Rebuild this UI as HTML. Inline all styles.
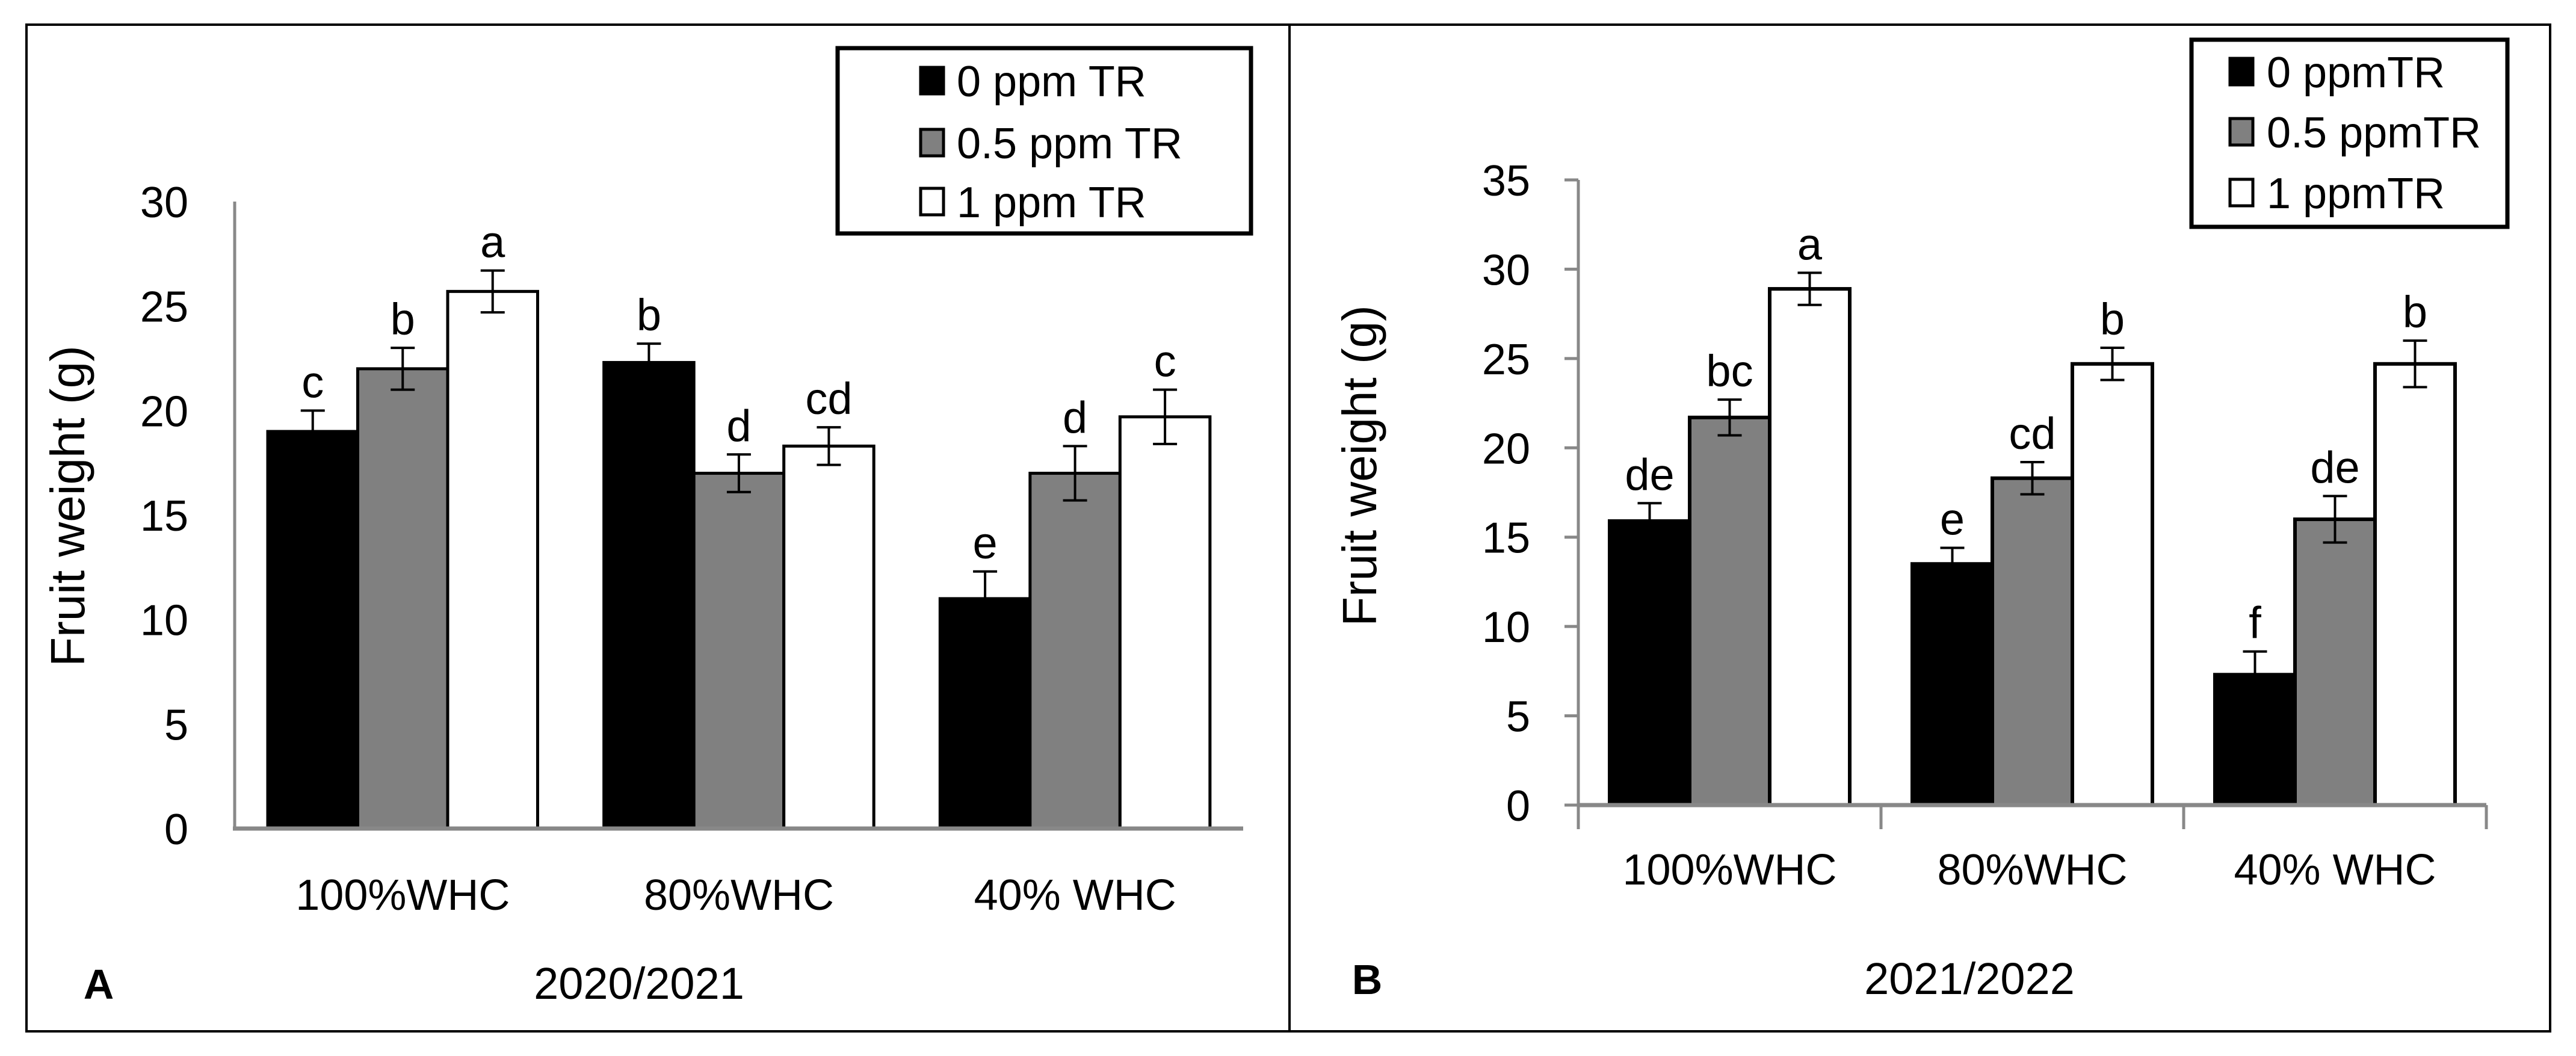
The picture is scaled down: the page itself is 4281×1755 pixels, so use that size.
<!DOCTYPE html>
<html><head><meta charset="utf-8"><style>
html,body{margin:0;padding:0;background:#fff}
svg{display:block}
text{font-family:"Liberation Sans",sans-serif;fill:#000}
</style></head><body>
<svg id="fig" width="4281" height="1755" viewBox="0 0 4281 1755" xmlns="http://www.w3.org/2000/svg">
<rect x="44" y="41" width="4194" height="1673" fill="none" stroke="#000" stroke-width="4"/>
<line x1="2143" y1="41" x2="2143" y2="1714" stroke="#000" stroke-width="4"/>
<g id="gA"></g>
<g id="gB"></g>
</svg>
<script>
const categories = ["100%WHC","80%WHC","40% WHC"];
const seriesNamesA = ["0 ppm TR","0.5 ppm TR","1 ppm TR"];
const seriesNamesB = ["0 ppmTR","0.5 ppmTR","1 ppmTR"];
const a0 = [19, 22.3, 11];
const a05 = [22, 17, 17];
const a1 = [25.7, 18.3, 19.7];
const aErr0 = [1.0, 0.9, 1.3];
const aErr05 = [1.0, 0.9, 1.3];
const aErr1 = [1.0, 0.9, 1.3];
const aLetters0 = ["c","b","e"];
const aLetters05 = ["b","d","d"];
const aLetters1 = ["a","cd","c"];
const b0 = [15.9, 13.5, 7.3];
const b05 = [21.7, 18.3, 16.0];
const b1 = [28.9, 24.7, 24.7];
const bErr0 = [1.0, 0.9, 1.3];
const bErr05 = [1.0, 0.9, 1.3];
const bErr1 = [0.9, 0.9, 1.3];
const bLetters0 = ["de","e","f"];
const bLetters05 = ["bc","cd","de"];
const bLetters1 = ["a","b","b"];
const ticksA = [0,5,10,15,20,25,30];
const ticksB = [0,5,10,15,20,25,30,35];

const NS="http://www.w3.org/2000/svg";
function mk(parent, tag, attrs, txt){
  const e=document.createElementNS(NS,tag);
  for(const k in attrs) e.setAttribute(k,attrs[k]);
  if(txt!==undefined) e.textContent=txt;
  parent.appendChild(e); return e;
}
const fills=["#000","#808080","#fff"];

function drawPanel(g, cfg){
  const yS=v=>cfg.y0-(v/cfg.ymax)*(cfg.y0-cfg.ytop);
  const gw=(cfg.xEnd-cfg.x0)/categories.length;
  let ax=mk(g,"line",{x1:cfg.x0,y1:cfg.ytop,x2:cfg.x0,y2:cfg.y0,stroke:"#888","stroke-width":5});
  
  
  cfg.ticks.forEach(t=>{
    const y=yS(t);
    if(cfg.tickMarks){
      let tm=mk(g,"line",{x1:cfg.x0-23,y1:y,x2:cfg.x0,y2:y,stroke:"#888","stroke-width":5});
      
      
    }
    let tl=mk(g,"text",{x:cfg.tickX,y:y+26,"text-anchor":"end","font-size":72},String(t));
    
    
  });
  const series=[cfg.s0,cfg.s05,cfg.s1], errs=[cfg.e0,cfg.e05,cfg.e1], lets=[cfg.l0,cfg.l05,cfg.l1];
  categories.forEach((c,i)=>{
    const gx=cfg.x0+i*gw;
    for(let s=0;s<3;s++){
      const v=series[s][i], x=gx+cfg.off+s*cfg.bw, y=yS(v);
      let r=mk(g,"rect",{x:x,y:y,width:cfg.bw,height:cfg.y0-y,fill:fills[s],stroke:"#000","stroke-width":cfg.sw});
      
      
      const cx=x+cfg.bw/2, et=yS(v+errs[s][i]), eb=yS(v-errs[s][i]);
      let eg=mk(g,"path",{d:`M${cx},${et}V${eb}M${cx-20},${et}H${cx+20}M${cx-20},${eb}H${cx+20}`,stroke:"#000","stroke-width":4,fill:"none"});
      
      
      let lt=mk(g,"text",{x:cx,y:et-22,"text-anchor":"middle","font-size":74},lets[s][i]);
      
      
    }
    let cl=mk(g,"text",{x:gx+gw/2,y:cfg.catY,"text-anchor":"middle","font-size":72},c);
    
    
    if(cfg.tickMarks){
      let xt=mk(g,"line",{x1:gx,y1:cfg.y0,x2:gx,y2:cfg.y0+40,stroke:"#888","stroke-width":5});
      
      
    }
  });
  if(cfg.tickMarks){
    let xt=mk(g,"line",{x1:cfg.xEnd,y1:cfg.y0,x2:cfg.xEnd,y2:cfg.y0+40,stroke:"#888","stroke-width":5});
    
    
  }
  let xa=mk(g,"line",{x1:cfg.x0-(cfg.tickMarks?0:3),y1:cfg.y0,x2:cfg.xEnd,y2:cfg.y0,stroke:"#888","stroke-width":7});
  
  
  let yt=mk(g,"text",{x:0,y:0,"text-anchor":"middle","font-size":80,transform:`translate(${cfg.ytX},${cfg.ytY}) rotate(-90)`},"Fruit weight (g)");
  
  
  let xt2=mk(g,"text",{x:cfg.yearX,y:cfg.yearY,"text-anchor":"middle","font-size":74},cfg.year);
  
  
  let pl=mk(g,"text",{x:cfg.letX,y:cfg.yearY,"text-anchor":"middle","font-size":70,"font-weight":"bold"},cfg.panel);
  
  
  const L=cfg.leg;
  let lb=mk(g,"rect",{x:L.x,y:L.y,width:L.w,height:L.h,fill:"#fff",stroke:"#000","stroke-width":7});
  
  
  cfg.names.forEach((n,s)=>{
    const cy=L.rows[s];
    let sq=mk(g,"rect",{x:L.sx,y:cy-22,width:38,height:44,fill:fills[s],stroke:"#000","stroke-width":5});
    
    
    let tx=mk(g,"text",{x:L.tx,y:cy+26,"font-size":72},n);
    
    
  });
}
drawPanel(document.getElementById("gA"),{tag:"a",x0:390,xEnd:2066,y0:1377,ytop:335,ymax:30,ticks:ticksA,tickMarks:false,
  tickX:313,off:55,bw:149.5,sw:5,s0:a0,s05:a05,s1:a1,e0:aErr0,e05:aErr05,e1:aErr1,l0:aLetters0,l05:aLetters05,l1:aLetters1,
  catY:1512,ytX:140,ytY:841,year:"2020/2021",yearX:1062,yearY:1660,letX:164,panel:"A",names:seriesNamesA,
  leg:{x:1392,y:80,w:687,h:308,rows:[134,237,335],sx:1530,tx:1590}});
drawPanel(document.getElementById("gB"),{tag:"b",x0:2623,xEnd:4132,y0:1338,ytop:299,ymax:35,ticks:ticksB,tickMarks:true,
  tickX:2543,off:52,bw:133,sw:6,s0:b0,s05:b05,s1:b1,e0:bErr0,e05:bErr05,e1:bErr1,l0:bLetters0,l05:bLetters05,l1:bLetters1,
  catY:1470,ytX:2287,ytY:774,year:"2021/2022",yearX:3273,yearY:1652,letX:2272,panel:"B",names:seriesNamesB,
  leg:{x:3642,y:66,w:525,h:311,rows:[119,219,320],sx:3706,tx:3767}});
</script>
</body></html>
